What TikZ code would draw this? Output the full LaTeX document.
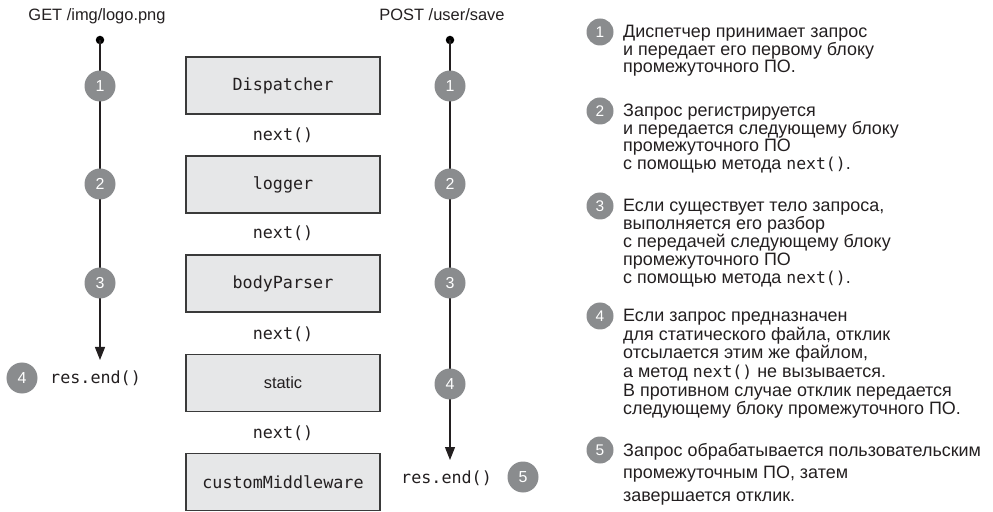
\documentclass[tikz,border=0pt]{standalone}
\usepackage{fontspec}
\setmainfont{Liberation Sans}
\setmonofont{DejaVu Sans Mono}
\usetikzlibrary{arrows.meta}
\definecolor{numgray}{HTML}{8A8C8E}
\definecolor{boxfill}{HTML}{E6E7E8}
\definecolor{ink}{HTML}{231F20}
\definecolor{boxline}{HTML}{3A3A3A}
\newcommand{\mononext}{{\fontsize{16.5}{16.5}\selectfont\ttfamily next()}}
\begin{document}
\begin{tikzpicture}[x=1bp,y=-1bp,
  every node/.style={inner sep=0pt, text=ink},
  bignum/.style={circle, fill=numgray, minimum size=31bp, text=white, font=\fontsize{16}{16}\selectfont},
  smallnum/.style={circle, fill=numgray, minimum size=27bp, text=white, font=\fontsize{15.5}{15.5}\selectfont},
  mw/.style={draw=boxline, line width=1.2bp, fill=boxfill, minimum width=194bp, minimum height=57bp, font=\fontsize{16.8}{16.8}\selectfont\ttfamily},
  code/.style={font=\fontsize{16.8}{16.8}\selectfont\ttfamily, anchor=base},
  flow/.style={draw=ink, line width=1.1bp, -{Triangle[width=10bp,length=13bp]}},
  dotst/.style={circle, fill=black, minimum size=8.5bp},
  req/.style={font=\fontsize{16.5}{16.5}\selectfont, anchor=base},
  desc/.style={font=\fontsize{18}{18}\selectfont, anchor=base west},
]
\useasboundingbox (0,0) rectangle (993,512);

% ---------- left request ----------
\node[req] (getL) at (97,21) {GET /img/logo.png};
\node[dotst] (dotL) at (100,40) {};
\coordinate (tipL) at (100,360);
\draw[flow] (dotL.center) -- (tipL);
\node[bignum] (l1) at (100,86) {1};
\node[bignum] (l2) at (100,184) {2};
\node[bignum] (l3) at (100,283) {3};
\node[bignum] (l4) at (22,378) {4};
\node[code, anchor=base west] (endL) at (50,384) {res.end()};

% ---------- middleware stack ----------
\node[mw] (disp) at (283,85.5) {Dispatcher};
\node[mw] (logg) at (283,184.5) {logger};
\node[mw] (body) at (283,283.5) {bodyParser};
\node[mw, font=\fontsize{16.5}{16.5}\selectfont\rmfamily] (stat) at (283,383) {static};
\node[mw] (cust) at (283,482) {customMiddleware};
\node[code] (n1) at (283,141) {next()};
\node[code] (n2) at (283,239) {next()};
\node[code] (n3) at (283,340) {next()};
\node[code] (n4) at (283,438) {next()};

% ---------- right request ----------
\node[req] (postR) at (442,21) {POST /user/save};
\node[dotst] (dotR) at (450,40) {};
\coordinate (tipR) at (450,460);
\draw[flow] (dotR.center) -- (tipR);
\node[bignum] (r1) at (450,86) {1};
\node[bignum] (r2) at (450,184) {2};
\node[bignum] (r3) at (450,283) {3};
\node[bignum] (r4) at (450,384) {4};
\node[code, anchor=base west] (endR) at (401,483) {res.end()};
\node[bignum] (r5) at (523,477) {5};

% ---------- legend ----------
\node[smallnum] (k1) at (600,32) {1};
\node[desc] (k1a) at (623,38) {Диспетчер принимает запрос};
\node[desc] (k1b) at (623,55.5) {и передает его первому блоку};
\node[desc] (k1c) at (623,73) {промежуточного ПО.};

\node[smallnum] (k2) at (600,111) {2};
\node[desc] (k2a) at (623,117) {Запрос регистрируется};
\node[desc] (k2b) at (623,134.5) {и передается следующему блоку};
\node[desc] (k2c) at (623,152) {промежуточного ПО};
\node[desc] (k2d) at (623,169.5) {с помощью метода \mononext.};

\node[smallnum] (k3) at (600,206) {3};
\node[desc] (k3a) at (623,212) {Если существует тело запроса,};
\node[desc] (k3b) at (623,230) {выполняется его разбор};
\node[desc] (k3c) at (623,248) {с передачей следующему блоку};
\node[desc] (k3d) at (623,266) {промежуточного ПО};
\node[desc] (k3e) at (623,284) {с помощью метода \mononext.};

\node[smallnum] (k4) at (600,316) {4};
\node[desc] (k4a) at (623,322) {Если запрос предназначен};
\node[desc] (k4b) at (623,340.5) {для статического файла, отклик};
\node[desc] (k4c) at (623,359) {отсылается этим же файлом,};
\node[desc] (k4d) at (623,377.5) {а метод \mononext{} не вызывается.};
\node[desc] (k4e) at (623,396) {В противном случае отклик передается};
\node[desc] (k4f) at (623,414.5) {следующему блоку промежуточного ПО.};

\node[smallnum] (k5) at (600,450) {5};
\node[desc] (k5a) at (623,456) {Запрос обрабатывается пользовательским};
\node[desc] (k5b) at (623,478.5) {промежуточным ПО, затем};
\node[desc] (k5c) at (623,501) {завершается отклик.};
\end{tikzpicture}
\end{document}
